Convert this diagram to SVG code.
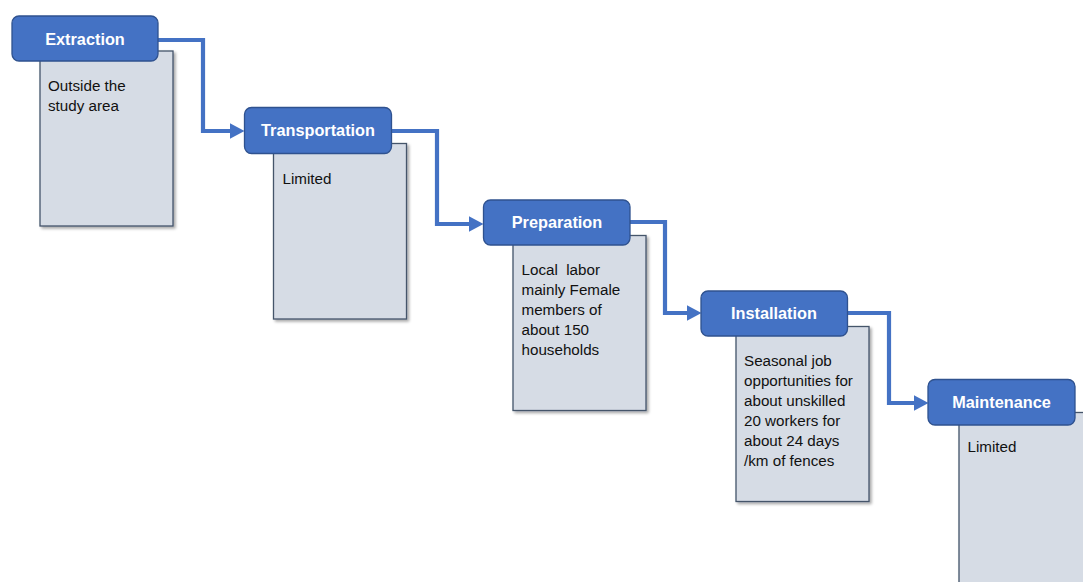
<svg xmlns="http://www.w3.org/2000/svg" width="1083" height="582" viewBox="0 0 1083 582">
<style>
.hdr{fill:#4472C4;stroke:#2F528F;stroke-width:1.3}
.body{fill:#D6DCE5;stroke:#44546A;stroke-width:1.3;filter:url(#sh)}
.ht{font-family:"Liberation Sans",Arial,sans-serif;font-weight:bold;font-size:16.3px;fill:#FFFFFF;text-anchor:middle}
.bt{font-family:"Liberation Sans",Arial,sans-serif;font-size:15.2px;fill:#111111;white-space:pre}
.con{fill:none;stroke:#4472C4;stroke-width:4.2;stroke-linejoin:miter}
</style>
<defs>
<filter id="sh" x="-10%" y="-10%" width="125%" height="125%">
<feGaussianBlur in="SourceAlpha" stdDeviation="1.5"/>
<feOffset dx="2" dy="2" result="b"/>
<feComponentTransfer><feFuncA type="linear" slope="0.35"/></feComponentTransfer>
<feMerge><feMergeNode/><feMergeNode in="SourceGraphic"/></feMerge>
</filter>
<marker id="arr" markerUnits="userSpaceOnUse" markerWidth="15" markerHeight="16" viewBox="0 0 15 16" refX="0.5" refY="8" orient="auto">
<path d="M0,0 L15,8 L0,16 Z" fill="#4472C4"/>
</marker>
</defs>
<rect width="1083" height="582" fill="#FFFFFF"/>
<g id="connectors">
<path class="con" d="M158,40 H203 V131 H230" marker-end="url(#arr)"/>
<path class="con" d="M391,131 H437 V224 H469" marker-end="url(#arr)"/>
<path class="con" d="M630,222 H665 V313 H687" marker-end="url(#arr)"/>
<path class="con" d="M847,313 H889 V403 H914" marker-end="url(#arr)"/>
</g>
<g id="extraction">
<rect class="body" x="40" y="51" width="133" height="175"/>
<rect class="hdr" x="12" y="16" width="146" height="45" rx="7"/>
<text class="ht" x="85" y="45">Extraction</text>
<text class="bt" x="48" y="91">Outside the</text>
<text class="bt" x="48" y="111">study area</text>
</g>
<g id="transportation">
<rect class="body" x="273.5" y="143.5" width="133" height="175.5"/>
<rect class="hdr" x="244.5" y="107.5" width="147" height="46" rx="7"/>
<text class="ht" x="318" y="136">Transportation</text>
<text class="bt" x="282.5" y="183.5">Limited</text>
</g>
<g id="preparation">
<rect class="body" x="513" y="235.5" width="133" height="175"/>
<rect class="hdr" x="483.5" y="200" width="146.5" height="45" rx="7"/>
<text class="ht" x="557" y="228">Preparation</text>
<text class="bt" x="521.5" y="275" xml:space="preserve">Local  labor</text>
<text class="bt" x="521.5" y="295">mainly Female</text>
<text class="bt" x="521.5" y="315">members of</text>
<text class="bt" x="521.5" y="335">about 150</text>
<text class="bt" x="521.5" y="355">households</text>
</g>
<g id="installation">
<rect class="body" x="736" y="326.5" width="133" height="175"/>
<rect class="hdr" x="701" y="291" width="146.5" height="45" rx="7"/>
<text class="ht" x="774" y="319">Installation</text>
<text class="bt" x="744" y="366">Seasonal job</text>
<text class="bt" x="744" y="386">opportunities for</text>
<text class="bt" x="744" y="406">about unskilled</text>
<text class="bt" x="744" y="426">20 workers for</text>
<text class="bt" x="744" y="446">about 24 days</text>
<text class="bt" x="744" y="466">/km of fences</text>
</g>
<g id="maintenance">
<rect class="body" x="959" y="412.5" width="133" height="175"/>
<rect class="hdr" x="928" y="379.5" width="147" height="45.5" rx="7"/>
<text class="ht" x="1001.5" y="408">Maintenance</text>
<text class="bt" x="967.5" y="452">Limited</text>
</g>
</svg>
